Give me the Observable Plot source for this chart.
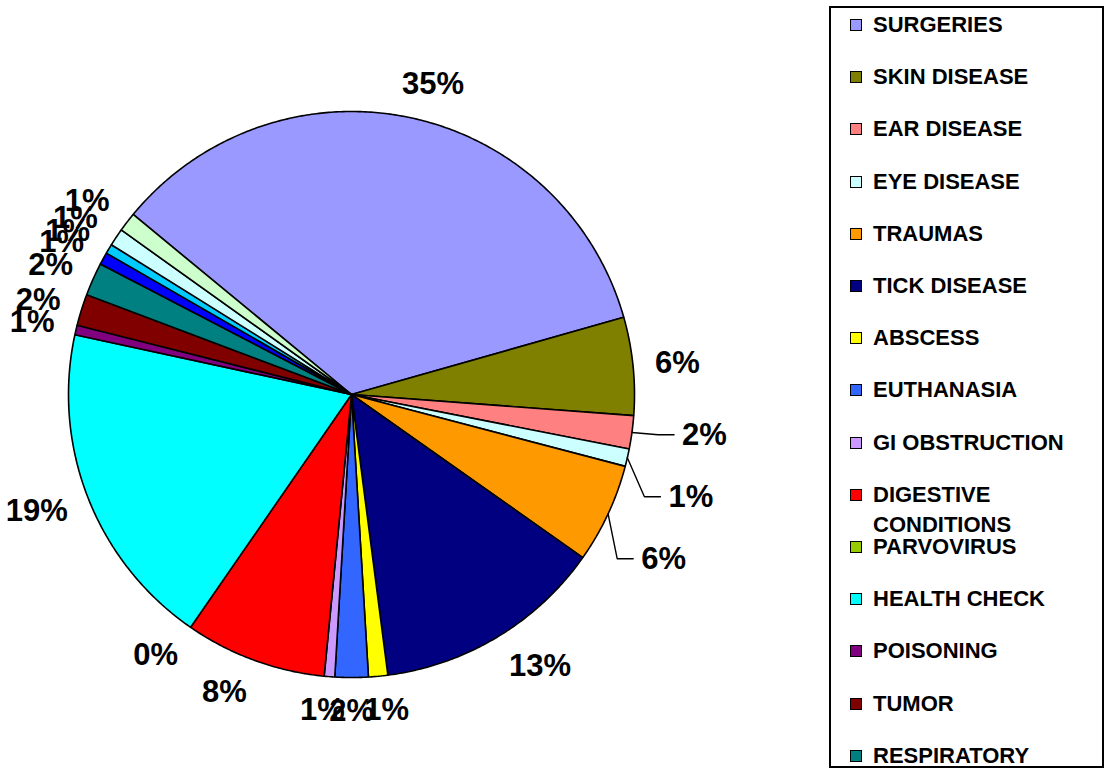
<!DOCTYPE html>
<html>
<head>
<meta charset="utf-8">
<script src="https://cdn.jsdelivr.net/npm/d3@7"></script>
<script src="https://cdn.jsdelivr.net/npm/@observablehq/plot@0.6"></script>
<style>
  html, body { margin: 0; padding: 0; background: #fff; overflow: hidden; }
  #wrap { position: relative; width: 1108px; height: 768px; font-family: "Liberation Sans", Arial, sans-serif; }
  #chart { position: absolute; left: 0; top: 0; }
  #legend { position: absolute; left: 829px; top: 6px; width: 275px; height: 762px; border: 2px solid #000; box-sizing: border-box; background: #fff; overflow: hidden; }
  .item { position: absolute; left: 0; width: 270px; height: 30px; }
  .sw { position: absolute; left: 19px; top: 9px; width: 10px; height: 10px; border: 1px solid #000; }
  .lab { position: absolute; left: 42px; top: 0; width: 215px; font-size: 22px; line-height: 30px; font-weight: bold; color: #000; white-space: normal; }
</style>
</head>
<body>
<div id="wrap"><div id="chart"></div><div id="legend"></div></div>
<script>
// ---- data ----
const categories = [
  "SURGERIES", "SKIN DISEASE", "EAR DISEASE", "EYE DISEASE", "TRAUMAS",
  "TICK DISEASE", "ABSCESS", "EUTHANASIA", "GI OBSTRUCTION", "DIGESTIVE CONDITIONS",
  "PARVOVIRUS", "HEALTH CHECK", "POISONING", "TUMOR", "RESPIRATORY",
  "OTHER 1", "OTHER 2", "OTHER 3", "OTHER 4"
];
const values = [
  34.7, 5.6, 1.9, 1.0, 5.7,
  13.2, 1.1, 1.9, 0.6, 8.1,
  0, 18.8, 0.55, 1.8, 1.9,
  0.7, 0.55, 1.0, 1.1
];
const colors = [
  "#9999FF", "#808000", "#FF8080", "#CCFFFF", "#FF9900",
  "#000080", "#FFFF00", "#3366FF", "#CC99FF", "#FF0000",
  "#99CC00", "#00FFFF", "#800080", "#800000", "#008080",
  "#0000FF", "#00CCFF", "#CCFFFF", "#CCFFCC"
];
const legendShown = 15;               // legend entries visible in the frame
const leaderCategories = ["EAR DISEASE", "EYE DISEASE", "TRAUMAS"];

// ---- layout ----
const W = 1108, H = 768;
const R = 283, CX = 351, CY = 394;    // pie radius and centre in pixels
const FS = 31;                        // label font size
const startDeg = 309.5;

const total = d3.sum(values);
const pie = d3.pie().sort(null).value(d => d)
  .startAngle(startDeg * Math.PI / 180)
  .endAngle((startDeg + 360) * Math.PI / 180);
const arcs = pie(values);
const slices = arcs.map((a, i) => ({
  cat: categories[i], a0: a.startAngle, a1: a.endAngle,
  mid: (a.startAngle + a.endAngle) / 2,
  label: Math.round(values[i] / total * 100) + "%"
}));

// slice polygons
const polyPts = [];
slices.forEach(s => {
  if (s.a1 - s.a0 <= 0) return;
  const n = Math.max(2, Math.ceil((s.a1 - s.a0) / (Math.PI / 360)));
  polyPts.push({cat: s.cat, x: 0, y: 0});
  for (let k = 0; k <= n; k++) {
    const t = s.a0 + (s.a1 - s.a0) * k / n;
    polyPts.push({cat: s.cat, x: Math.sin(t), y: -Math.cos(t)});
  }
});

// labels
const textW = s => ((s.length - 1) * 0.556 + 0.889) * FS;
const clamp = v => Math.max(-1, Math.min(1, v));
const r0 = 305 / R;
const normal = [], leaders = [];
slices.forEach(s => {
  if (leaderCategories.includes(s.cat)) { leaders.push(s); return; }
  const sx = Math.sin(s.mid), cy = -Math.cos(s.mid);
  normal.push({
    text: s.label,
    x: sx * r0 + clamp(3 * sx) * (textW(s.label) / 2) / R,
    y: cy * r0 + cy * 12 / R
  });
});
// leader labels: spread vertically
const leadLabels = [];
const lineGap = 62 / R, re = 333 / R;
let prevY = -Infinity;
leaders.forEach(s => {
  let y = -Math.cos(s.mid) * (300 / R);
  y = Math.max(y, prevY + lineGap);
  prevY = y;
  const xl = Math.sqrt(Math.max(0, re * re - y * y));
  leadLabels.push({text: s.label, x: xl, y, s});
});
const leaderPts = [];
leadLabels.forEach((l, i) => {
  leaderPts.push({id: i, x: Math.sin(l.s.mid), y: -Math.cos(l.s.mid)});
  leaderPts.push({id: i, x: l.x - 24 / R, y: l.y});
  leaderPts.push({id: i, x: l.x - 8 / R, y: l.y});
});

const font = "Liberation Sans, Arial, sans-serif";
const chart = Plot.plot({
  width: W, height: H,
  margin: 0,
  x: {domain: [-CX / R, (W - CX) / R], range: [0, W], axis: null},
  y: {domain: [-CY / R, (H - CY) / R], range: [0, H], axis: null},
  color: {domain: categories, range: colors},
  style: {background: "#fff"},
  marks: [
    Plot.line(polyPts, {x: "x", y: "y", z: "cat", fill: "cat", stroke: "#000",
      strokeWidth: 1.6, strokeLinejoin: "miter", curve: "linear-closed"}),
    Plot.line(leaderPts, {x: "x", y: "y", z: "id", stroke: "#000", strokeWidth: 1.4}),
    Plot.text(normal, {x: "x", y: "y", text: "text", fontSize: FS, fontWeight: "bold",
      fontFamily: font, fill: "#000", textAnchor: "middle"}),
    Plot.text(leadLabels, {x: "x", y: "y", text: "text", fontSize: FS, fontWeight: "bold",
      fontFamily: font, fill: "#000", textAnchor: "start"})
  ]
});
document.getElementById("chart").appendChild(chart);

// legend
const legend = document.getElementById("legend");
categories.slice(0, legendShown).forEach((c, i) => {
  const item = document.createElement("div");
  item.className = "item";
  item.style.top = (2 + i * 52.2) + "px";
  const sw = document.createElement("div");
  sw.className = "sw";
  sw.style.background = colors[i];
  const lab = document.createElement("div");
  lab.className = "lab";
  lab.textContent = c;
  item.appendChild(sw);
  item.appendChild(lab);
  legend.appendChild(item);
});
</script>
</body>
</html>
